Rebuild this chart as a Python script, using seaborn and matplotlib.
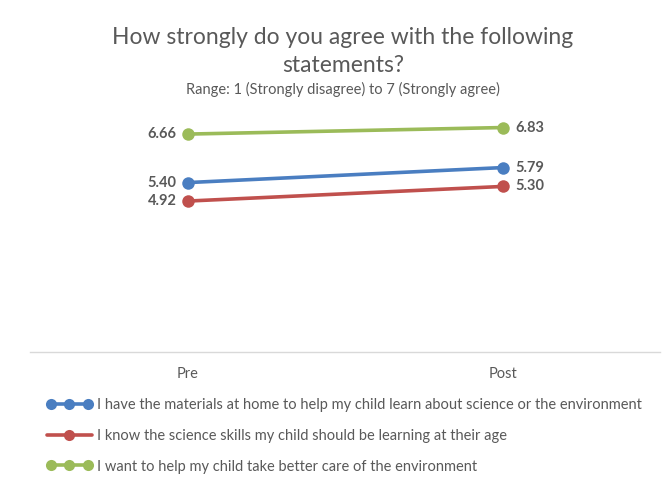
import matplotlib

matplotlib.use("Agg")

import matplotlib.pyplot as plt
import pandas as pd
import seaborn as sns
from matplotlib.legend_handler import HandlerLine2D
from matplotlib.lines import Line2D

# data
periods = ["Pre", "Post"]
statements = [
    "I have the materials at home to help my child learn about science or the environment",
    "I know the science skills my child should be learning at their age",
    "I want to help my child take better care of the environment",
]
materials = [5.40, 5.79]
skills = [4.92, 5.30]
environment = [6.66, 6.83]
colors = ["#4a7ec1", "#c0504d", "#9bbb59"]

rows = []
for name, vals in zip(statements, [materials, skills, environment]):
    for p, v in zip(periods, vals):
        rows.append({"period": p, "score": v, "statement": name})
df = pd.DataFrame(rows)

sns.set_theme(style="white")
plt.rcParams["font.family"] = ["Lato", "DejaVu Sans"]
text_col = "#595959"

fig = plt.figure(figsize=(6.62, 4.83), dpi=100)
ax = fig.add_axes([30 / 662, 1 - 352 / 483, 630 / 662, 231 / 483])

sns.lineplot(
    data=df, x="period", y="score", hue="statement", palette=colors,
    marker="o", markersize=9, markeredgewidth=0, linewidth=2.6,
    sort=False, legend=False, ax=ax,
)

ax.set_xlim(-0.5, 1.5)
ax.set_ylim(1, 7)
ax.set_yticks([])
ax.set_xlabel("")
ax.set_ylabel("")
for side in ["left", "right", "top"]:
    ax.spines[side].set_visible(False)
ax.spines["bottom"].set_color("#d9d9d9")
ax.spines["bottom"].set_linewidth(1)
ax.tick_params(axis="x", length=0, pad=11, labelsize=10.5, labelcolor=text_col)

# data labels
for vals in [materials, skills, environment]:
    ax.annotate(f"{vals[0]:.2f}", (0, vals[0]), xytext=(-8, 0), textcoords="offset points",
                ha="right", va="center", fontsize=10.5, color=text_col, fontweight="bold")
    ax.annotate(f"{vals[1]:.2f}", (1, vals[1]), xytext=(9, 0), textcoords="offset points",
                ha="left", va="center", fontsize=10.5, color=text_col, fontweight="bold")

fig.text(0.518, 0.893, "How strongly do you agree with the following\nstatements?",
         ha="center", va="center", fontsize=16.5, color=text_col, linespacing=1.4)
fig.text(0.518, 0.815, "Range: 1 (Strongly disagree) to 7 (Strongly agree)",
         ha="center", va="center", fontsize=10.5, color=text_col)

handles = [Line2D([], [], color=c, marker="o", markersize=8, linewidth=2.6, markeredgewidth=0)
           for c in colors]
hmap = {
    handles[0]: HandlerLine2D(numpoints=3),
    handles[1]: HandlerLine2D(numpoints=1),
    handles[2]: HandlerLine2D(numpoints=3),
}
fig.legend(handles, statements, handler_map=hmap, loc="upper left",
           bbox_to_anchor=(0.062, 0.188), frameon=False, fontsize=10.5,
           labelcolor=text_col, handlelength=3.1, handletextpad=0.35, labelspacing=1.15,
           borderaxespad=0)

fig.savefig("out.png", dpi=100)
